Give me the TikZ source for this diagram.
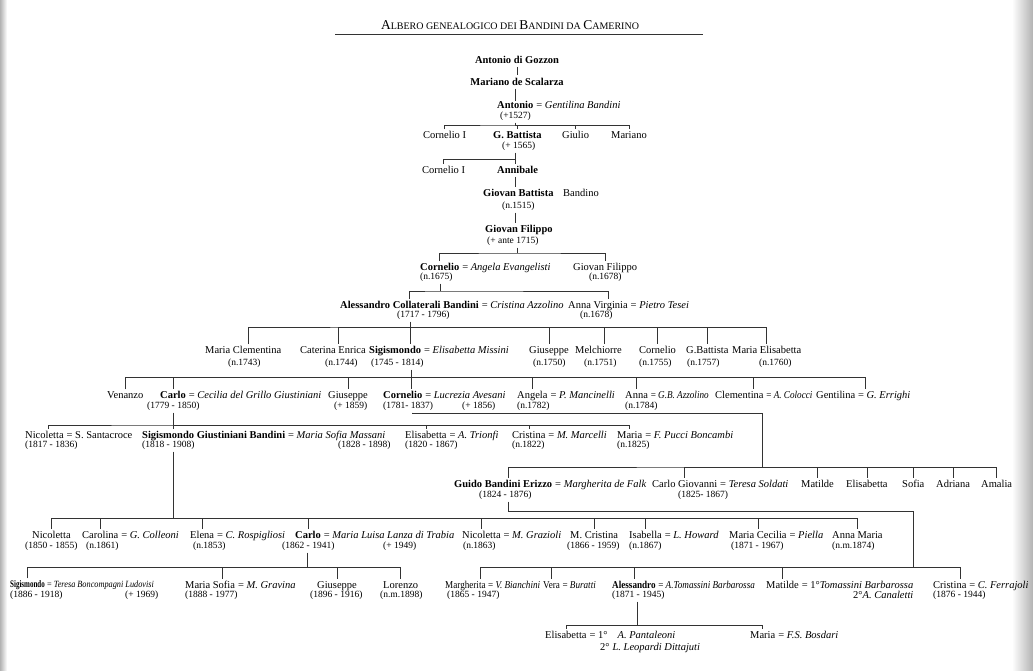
\documentclass[tikz,border=0pt]{standalone}
\usepackage{fontspec}
\setmainfont{Liberation Serif}
\newfontfamily\narrowA{Liberation Serif}[FakeStretch=0.7]
\newfontfamily\narrowB{Liberation Serif}[FakeStretch=0.87]
\usetikzlibrary{positioning}

\tikzset{
  nm/.style={inner sep=0pt, anchor=base west, font=\fontsize{10.5}{12}\selectfont},
  bnm/.style={nm, font=\fontsize{10.5}{12}\selectfont\bfseries},
  cnm/.style={nm, font=\narrowB\fontsize{10.5}{12}\selectfont},
  cbnm/.style={nm, font=\narrowB\fontsize{10.5}{12}\selectfont\bfseries},
  dt/.style={nm, font=\fontsize{9.5}{11}\selectfont},
  link/.style={draw=black!80, line width=0.55pt},
  drop/.style={link, shorten <=2pt},
  tick/.style={link, shorten >=2pt},
  bar/.style={link, shorten <=2pt, shorten >=2pt},
}
\newcommand{\fsc}[2]{{\fontsize{13.5}{15}\selectfont #1}{\fontsize{10}{12}\selectfont #2}}

\begin{document}
\begin{tikzpicture}[x=1pt, y=-1pt]
\useasboundingbox (0,0) rectangle (1033,670);
\fill[white] (0,0) rectangle (1033,670);
\shade[left color=white, right color=black!30] (1012,0) rectangle (1033,670);
\shade[left color=black!30, right color=white] (0,0) rectangle (7,670);

% title
\node[anchor=base, inner sep=0pt] (title) at (510,29) {\fsc{A}{LBERO GENEALOGICO DEI} \fsc{B}{ANDINI DA} \fsc{C}{AMERINO}};
\coordinate (rulel) at (335,34);
\coordinate (ruler) at (703,34);
\draw[link, line width=0.7pt] (rulel) -- (ruler);

% first generations
\node[bnm, anchor=base] (gozzon) at (517,63.5) {Antonio di Gozzon};
\node[bnm, anchor=base] (scalarza) at (517,85.5) {Mariano de Scalarza};
\node[bnm] (antonio) at (497,108.5) {Antonio};
\node[nm, base right=2.6pt of antonio] (antonios) {= \textit{Gentilina Bandini}};
\node[dt] (antoniod) at (500,118.5) {(+1527)};
\draw[link, shorten <=3pt, shorten >=3pt] (gozzon) -- (scalarza);
\draw[link, shorten <=3pt] (antonio.north |- scalarza.south) -- (antonio.north);

\node[nm] (cornelioIa) at (423,138.5) {Cornelio I};
\node[bnm] (gbattista) at (493,138.5) {G. Battista};
\node[nm] (giulio) at (562,138.5) {Giulio};
\node[nm] (marianoa) at (611,138.5) {Mariano};
\node[dt] (gbattistad) at (502,148.5) {(+ 1565)};
\coordinate (b1) at (515,125);
\draw[drop] (b1 |- antoniod.south) -- (b1);
\draw[bar] (cornelioIa.north) |- (b1) -| (marianoa.north);
\draw[tick] (b1) -| (gbattista.north);
\draw[tick] (b1) -| (giulio.north);

\node[nm] (cornelioIb) at (422,173.5) {Cornelio I};
\node[bnm] (annibale) at (497,173.5) {Annibale};
\coordinate (b2) at (515,159);
\draw[link, shorten <=2pt, shorten >=2pt] (b2 |- gbattistad.south) -- (b2 |- annibale.north);
\draw[tick] (b2) -| (cornelioIb.north);

\node[bnm] (giovbat) at (483,196.5) {Giovan Battista};
\node[nm] (bandino) at (563,196.5) {Bandino};
\node[dt] (giovbatd) at (502,208.5) {(n.1515)};
\draw[link, shorten <=3pt, shorten >=2pt] (b2 |- annibale.south) -- (b2 |- giovbat.north);

\node[bnm] (giovfil) at (485,232.5) {Giovan Filippo};
\node[dt] (giovfild) at (487,243.5) {(+ ante 1715)};
\draw[link, shorten <=2pt, shorten >=2pt] (b2 |- giovbatd.south) -- (b2 |- giovfil.north);

% Giovan Filippo's children
\node[bnm] (cornelio2) at (420,270.5) {Cornelio};
\node[nm, base right=2.6pt of cornelio2] (cornelio2s) {= \textit{Angela Evangelisti}};
\node[nm] (giovfil2) at (573,270.5) {Giovan Filippo};
\node[dt] (cornelio2d) at (420,279.5) {(n.1675)};
\node[dt] (giovfil2d) at (589,279.5) {(n.1678)};
\coordinate (b3) at (517,253);
\draw[drop] (b3 |- giovfild.south) -- (b3);
\draw[bar] (cornelio2.north) |- (b3) -| (giovfil2.north);

% Cornelio's children
\node[bnm] (alessandro) at (340,308.5) {Alessandro Collaterali Bandini};
\node[nm, base right=2.6pt of alessandro] (alessandros) {= \textit{Cristina Azzolino}};
\node[nm] (annavirg) at (568,308.5) {Anna Virginia};
\node[nm, base right=2.6pt of annavirg] (annavirgs) {= \textit{Pietro Tesei}};
\node[dt] (alessandrod) at (397,317.5) {(1717 - 1796)};
\node[dt] (annavirgd) at (580,317.5) {(n.1678)};
\coordinate (b4) at (440,291);
\draw[drop] (b4 |- cornelio2d.south) -- (b4);
\draw[bar] (alessandro.north) |- (b4) -| ([xshift=10pt]annavirg.north);

% Alessandro's children
\node[nm] (mclem) at (205,353.5) {Maria Clementina};
\node[nm] (catenr) at (300,353.5) {Caterina Enrica};
\node[bnm] (sigis1) at (369,353.5) {Sigismondo};
\node[nm, base right=2.6pt of sigis1] (sigis1s) {= \textit{Elisabetta Missini}};
\node[nm] (giusep1) at (529,353.5) {Giuseppe};
\node[nm] (melch) at (575,353.5) {Melchiorre};
\node[nm] (cornelio3) at (639,353.5) {Cornelio};
\node[nm] (gbatt2) at (686,353.5) {G.Battista};
\node[nm] (melis) at (732,353.5) {Maria Elisabetta};
\node[dt] (mclemd) at (228,365.5) {(n.1743)};
\node[dt] (catenrd) at (325,365.5) {(n.1744)};
\node[dt] (sigis1d) at (371,365.5) {(1745 - 1814)};
\node[dt] (giusep1d) at (533,365.5) {(n.1750)};
\node[dt] (melchd) at (584,365.5) {(n.1751)};
\node[dt] (cornelio3d) at (639,365.5) {(n.1755)};
\node[dt] (gbatt2d) at (687,365.5) {(n.1757)};
\node[dt] (melisd) at (759,365.5) {(n.1760)};
\coordinate (b5) at (410,327);
\draw[drop] (b5 |- alessandrod.south) -- (b5);
\draw[bar] ([xshift=5pt]mclem.north) |- (b5) -| (melis.north);
\draw[tick] (b5) -| ([xshift=5pt]catenr.north);
\draw[tick] (b5) -- (b5 |- sigis1.north);
\draw[tick] (b5) -| (giusep1.north);
\draw[tick] (b5) -| ([xshift=6pt]melch.north);
\draw[tick] (b5) -| (cornelio3.north);
\draw[tick] (b5) -| (gbatt2.north);

% Sigismondo's children
\node[nm] (venanzo) at (107,398.5) {Venanzo};
\node[bnm] (carlo1) at (160,398.5) {Carlo};
\node[nm, base right=2.6pt of carlo1] (carlo1s) {= \textit{Cecilia del Grillo Giustiniani}};
\node[nm] (giusep2) at (328,398.5) {Giuseppe};
\node[bnm] (cornelio4) at (383,398.5) {Cornelio};
\node[nm, base right=2.6pt of cornelio4] (cornelio4s) {= \textit{Lucrezia Avesani}};
\node[nm] (angela) at (517,398.5) {Angela};
\node[nm, base right=2.6pt of angela] (angelas) {= \textit{P. Mancinelli}};
\node[nm] (anna1) at (625,398.5) {Anna};
\node[cnm, base right=2.4pt of anna1] (anna1s) {= \textit{G.B. Azzolino}};
\node[nm] (clem) at (715,398.5) {Clementina};
\node[cnm, base right=2.4pt of clem] (clems) {= \textit{A. Colocci}};
\node[nm] (gentil) at (816,398.5) {Gentilina};
\node[nm, base right=2.4pt of gentil] (gentils) {= \textit{G. Errighi}};
\node[dt] (carlo1d) at (147,408.5) {(1779 - 1850)};
\node[dt] (giusep2d) at (334,408.5) {(+ 1859)};
\node[dt] (cornelio4d) at (383,408.5) {(1781- 1837)};
\node[dt] (cornelio4sd) at (462,408.5) {(+ 1856)};
\node[dt] (angelad) at (517,408.5) {(n.1782)};
\node[dt] (anna1d) at (625,408.5) {(n.1784)};
\coordinate (b6) at (411,377);
\draw[drop] (b6 |- sigis1d.south) -- (b6);
\draw[bar] (venanzo.north) |- (b6) -| ([xshift=30pt]gentil.north);
\draw[tick] (b6) -| (carlo1.north);
\draw[tick] (b6) -| (giusep2.north);
\draw[tick] (b6) -- (b6 |- cornelio4.north);
\draw[tick] (b6) -| (angela.north);
\draw[tick] (b6) -| (anna1.north);
\draw[tick] (b6) -| ([xshift=14pt]clem.north);

% Carlo's children
\node[nm] (nicol1) at (25,438.5) {Nicoletta};
\node[nm, base right=2.6pt of nicol1] (nicol1s) {= S. Santacroce};
\node[bnm] (sigisgb) at (142,438.5) {Sigismondo Giustiniani Bandini};
\node[nm, base right=2.6pt of sigisgb] (sigisgbs) {= \textit{Maria Sofia Massani}};
\node[nm] (elis1) at (405,438.5) {Elisabetta};
\node[nm, base right=2.6pt of elis1] (elis1s) {= \textit{A. Trionfi}};
\node[nm] (crist1) at (512,438.5) {Cristina};
\node[nm, base right=2.6pt of crist1] (crist1s) {= \textit{M. Marcelli}};
\node[nm] (maria1) at (617,438.5) {Maria};
\node[nm, base right=2.6pt of maria1] (maria1s) {= \textit{F. Pucci Boncambi}};
\node[dt] (nicol1d) at (25,447.5) {(1817 - 1836)};
\node[dt] (sigisgbd) at (142,447.5) {(1818 - 1908)};
\node[dt] (sigisgbsd) at (338,447.5) {(1828 - 1898)};
\node[dt] (elis1d) at (405,447.5) {(1820 - 1867)};
\node[dt] (crist1d) at (512,447.5) {(n.1822)};
\node[dt] (maria1d) at (617,447.5) {(n.1825)};
\coordinate (b7) at (173,425);
\draw[drop] (b7 |- carlo1d.south) -- (b7);
\draw[bar] ([xshift=4pt]nicol1.north) |- (b7) -| (maria1.north);
\draw[tick] (b7) -- (b7 |- sigisgb.north);
\draw[tick] (b7) -| (elis1.north);
\draw[tick] (b7) -| (crist1.north);

% Cornelio's children
\node[bnm] (guido) at (454,487.5) {Guido Bandini Erizzo};
\node[nm, base right=2.6pt of guido] (guidos) {= \textit{Margherita de Falk}};
\node[nm] (carlogio) at (652,487.5) {Carlo Giovanni};
\node[nm, base right=2.6pt of carlogio] (carlogios) {= \textit{Teresa Soldati}};
\node[nm] (matilde1) at (801,487.5) {Matilde};
\node[nm] (elis2) at (846,487.5) {Elisabetta};
\node[nm] (sofia) at (902,487.5) {Sofia};
\node[nm] (adriana) at (936,487.5) {Adriana};
\node[nm] (amalia) at (981,487.5) {Amalia};
\node[dt] (guidod) at (479,497.5) {(1824 - 1876)};
\node[dt] (carlogiod) at (678,497.5) {(1825- 1867)};
\coordinate (c8) at (412,413);
\coordinate (b8) at (762,467);
\draw[drop] (c8 |- cornelio4d.south) -- (c8) -| (b8);
\draw[bar] ([xshift=5pt]guido.north) |- (b8) -| (amalia.north);
\draw[tick] (b8) -| (carlogio.north);
\draw[tick] (b8) -| (matilde1.north);
\draw[tick] (b8) -| (elis2.north);
\draw[tick] (b8) -| (sofia.north);
\draw[tick] (b8) -| (adriana.north);

% Sigismondo Giustiniani Bandini's children
\node[nm] (nicol2) at (32,538.5) {Nicoletta};
\node[nm] (carolina) at (82,538.5) {Carolina};
\node[nm, base right=2.6pt of carolina] (carolinas) {= \textit{G. Colleoni}};
\node[nm] (elena) at (190,538.5) {Elena};
\node[nm, base right=2.6pt of elena] (elenas) {= \textit{C. Rospigliosi}};
\node[bnm] (carlo2) at (295,538.5) {Carlo};
\node[nm, base right=2.6pt of carlo2] (carlo2s) {= \textit{Maria Luisa Lanza di Trabia}};
\node[nm] (nicol3) at (462,538.5) {Nicoletta};
\node[nm, base right=2.6pt of nicol3] (nicol3s) {= \textit{M. Grazioli}};
\node[nm] (mcrist) at (570,538.5) {M. Cristina};
\node[nm] (isab) at (629,538.5) {Isabella};
\node[nm, base right=2.6pt of isab] (isabs) {= \textit{L. Howard}};
\node[nm] (mcec) at (729,538.5) {Maria Cecilia};
\node[nm, base right=2.6pt of mcec] (mcecs) {= \textit{Piella}};
\node[nm] (annam) at (832,538.5) {Anna Maria};
\node[dt] (nicol2d) at (25,548.5) {(1850 - 1855)};
\node[dt] (carolinad) at (86,548.5) {(n.1861)};
\node[dt] (elenad) at (193,548.5) {(n.1853)};
\node[dt] (carlo2d) at (282,548.5) {(1862 - 1941)};
\node[dt] (carlo2sd) at (383,548.5) {(+ 1949)};
\node[dt] (nicol3d) at (463,548.5) {(n.1863)};
\node[dt] (mcristd) at (567,548.5) {(1866 - 1959)};
\node[dt] (isabd) at (629,548.5) {(n.1867)};
\node[dt] (mcecd) at (731,548.5) {(1871 - 1967)};
\node[dt] (annamd) at (832,548.5) {(n.m.1874)};
\coordinate (b9) at (173,518);
\draw[drop] (b9 |- sigisgbd.south) -- (b9);
\draw[bar] (nicol2.north) |- (b9) -| (annam.north);
\draw[tick] (b9) -| (carolina.north);
\draw[tick] (b9) -| (elena.north);
\draw[tick] (b9) -| (carlo2.north);
\draw[tick] (b9) -| (nicol3.north);
\draw[tick] (b9) -| (mcrist.north);
\draw[tick] (b9) -| (isab.north);
\draw[tick] (b9) -| (mcec.north);

% Carlo's children
\node[nm, font=\narrowA\fontsize{10}{12}\selectfont\bfseries] (sigis3) at (10,587.5) {Sigismondo};
\node[nm, font=\narrowB\fontsize{9.5}{12}\selectfont, base right=2pt of sigis3] (sigis3s) {= \textit{Teresa Boncompagni Ludovisi}};
\node[nm] (msofia) at (185,588.5) {Maria Sofia};
\node[nm, base right=2.6pt of msofia] (msofias) {= \textit{M. Gravina}};
\node[nm] (giusep3) at (317,588.5) {Giuseppe};
\node[nm] (lorenzo) at (383,588.5) {Lorenzo};
\node[dt] (sigis3d) at (10,597.5) {(1886 - 1918)};
\node[dt] (sigis3sd) at (125,597.5) {(+ 1969)};
\node[dt] (msofiad) at (185,597.5) {(1888 - 1977)};
\node[dt] (giusep3d) at (310,597.5) {(1896 - 1916)};
\node[dt] (lorenzod) at (380,597.5) {(n.m.1898)};
\coordinate (b11) at (307,567);
\draw[drop] (b11 |- carlo2d.south) -- (b11);
\draw[bar] (sigis3.north) |- (b11) -| (lorenzo.north);
\draw[tick] (b11) -| ([xshift=12pt]msofia.north);
\draw[tick] (b11) -| (giusep3.north);

% Guido's children
\node[cnm] (marg) at (445,588.5) {Margherita};
\node[cnm, base right=2.2pt of marg] (margs) {= \textit{V. Bianchini}};
\node[cnm] (vera) at (543,588.5) {Vera};
\node[cnm, base right=2.2pt of vera] (veras) {= \textit{Buratti}};
\node[cbnm] (aless2) at (612,588.5) {Alessandro};
\node[cnm, base right=2.2pt of aless2] (aless2s) {= \textit{A.Tomassini Barbarossa}};
\node[nm] (matilde2) at (766,588.5) {Matilde};
\node[nm, base right=2.6pt of matilde2] (matilde2s) {= 1°\textit{Tomassini Barbarossa}};
\node[nm] (matilde2t) at (853,598.5) {2°\textit{A. Canaletti}};
\node[nm] (crist2) at (933,588.5) {Cristina};
\node[nm, base right=2.4pt of crist2] (crist2s) {= \textit{C. Ferrajoli}};
\node[dt] (margd) at (447,597.5) {(1865 - 1947)};
\node[dt] (aless2d) at (612,597.5) {(1871 - 1945)};
\node[dt] (crist2d) at (933,597.5) {(1876 - 1944)};
\coordinate (c10) at (508,511);
\coordinate (b10) at (913,567);
\draw[drop] (c10 |- guidod.south) -- (c10) -| (b10);
\draw[bar] ([xshift=15pt]marg.north) |- (b10) -| ([xshift=10pt]crist2.north);
\draw[tick] (b10) -| (vera.north);
\draw[tick] (b10) -| (aless2.north);
\draw[tick] (b10) -| (matilde2.north);

% Alessandro's children
\node[nm] (elis3) at (545,638.5) {Elisabetta};
\node[nm, base right=2.6pt of elis3] (elis3s) {= 1°\hspace{10pt}\textit{A. Pantaleoni}};
\node[nm] (elis3t) at (600,650.5) {2°\hspace{3pt}\textit{L. Leopardi Dittajuti}};
\node[nm] (maria2) at (750,638.5) {Maria};
\node[nm, base right=2.6pt of maria2] (maria2s) {= \textit{F.S. Bosdari}};
\coordinate (b12) at (637,625);
\draw[drop] (b12 |- aless2d.south) -- (b12);
\draw[bar] (elis3.north) |- (b12) -| (maria2.north);
\end{tikzpicture}
\end{document}
